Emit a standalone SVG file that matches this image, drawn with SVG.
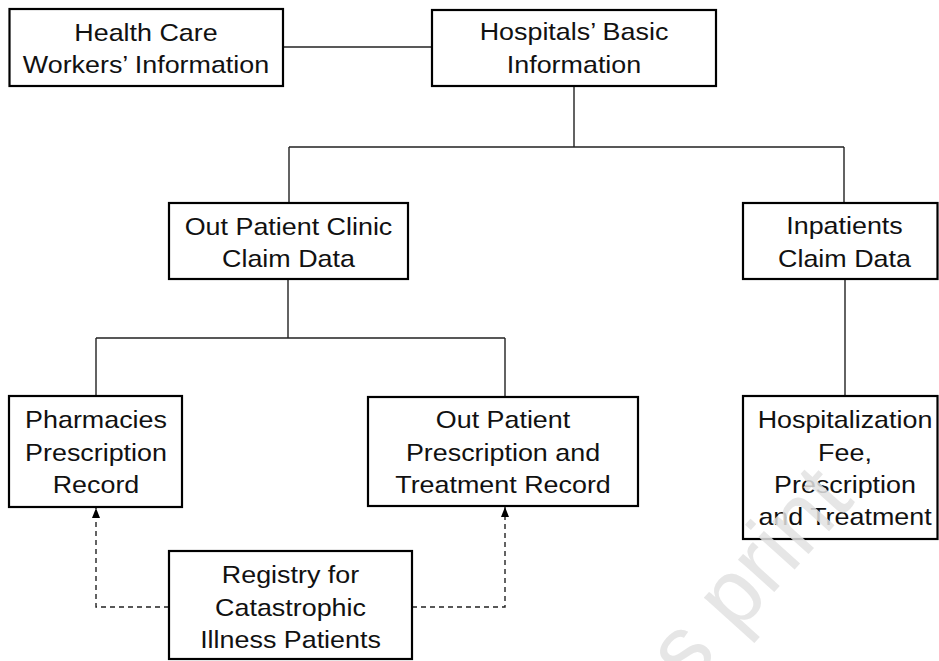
<svg xmlns="http://www.w3.org/2000/svg" width="939" height="661" viewBox="0 0 939 661">
<style>
.box{fill:#fff;stroke:#000;stroke-width:2.2}
.t{font-family:"Liberation Sans",Arial,sans-serif;font-size:24px;fill:#111;text-anchor:middle}
.ln{fill:none;stroke:#222;stroke-width:1.4}
.dash{fill:none;stroke:#222;stroke-width:1.4;stroke-dasharray:5 4}
.wm{font-family:"Liberation Sans",Arial,sans-serif;font-size:92px;fill:#e2e2e2;opacity:0.85}
</style>
<defs>
<marker id="ah" viewBox="0 0 10 8" refX="10" refY="4" markerWidth="10" markerHeight="8" markerUnits="userSpaceOnUse" orient="auto">
<path d="M0,0 L10,4 L0,8 Z" fill="#000"/>
</marker>
</defs>
<rect width="939" height="661" fill="#fff"/>
<g id="connectors">
<path class="ln" d="M283,47 H432"/>
<path class="ln" d="M574,86 V147 M289,147 H844 M289,147 V203 M844,147 V203"/>
<path class="ln" d="M288,279 V338 M96,338 H505 M96,338 V396 M505,338 V397"/>
<path class="ln" d="M845,279 V396"/>
<path class="dash" d="M169,607 H96 V508" marker-end="url(#ah)"/>
<path class="dash" d="M412,607 H505 V507" marker-end="url(#ah)"/>
</g>
<g id="n-hcw">
<rect class="box" x="9.5" y="9" width="273.5" height="77"/>
<text class="t" transform="translate(146 0) scale(1.12 1)" x="0" y="41">Health Care</text>
<text class="t" transform="translate(146 0) scale(1.12 1)" x="0" y="73">Workers’ Information</text>
</g>
<g id="n-hosp">
<rect class="box" x="432" y="10" width="284" height="76"/>
<text class="t" transform="translate(574 0) scale(1.12 1)" x="0" y="40">Hospitals’ Basic</text>
<text class="t" transform="translate(574 0) scale(1.12 1)" x="0" y="73">Information</text>
</g>
<g id="n-opc">
<rect class="box" x="169" y="203" width="239" height="76"/>
<text class="t" transform="translate(288.5 0) scale(1.12 1)" x="0" y="235">Out Patient Clinic</text>
<text class="t" transform="translate(288.5 0) scale(1.12 1)" x="0" y="267">Claim Data</text>
</g>
<g id="n-inp">
<rect class="box" x="743" y="203" width="194.5" height="76"/>
<text class="t" transform="translate(844.5 0) scale(1.12 1)" x="0" y="234.5">Inpatients</text>
<text class="t" transform="translate(844.5 0) scale(1.12 1)" x="0" y="267">Claim Data</text>
</g>
<g id="n-pharm">
<rect class="box" x="9" y="396" width="173" height="111"/>
<text class="t" transform="translate(96 0) scale(1.12 1)" x="0" y="428">Pharmacies</text>
<text class="t" transform="translate(96 0) scale(1.12 1)" x="0" y="461">Prescription</text>
<text class="t" transform="translate(96 0) scale(1.12 1)" x="0" y="493">Record</text>
</g>
<g id="n-opt">
<rect class="box" x="368" y="397" width="270" height="109"/>
<text class="t" transform="translate(503 0) scale(1.12 1)" x="0" y="428.5">Out Patient</text>
<text class="t" transform="translate(503 0) scale(1.12 1)" x="0" y="461">Prescription and</text>
<text class="t" transform="translate(503 0) scale(1.12 1)" x="0" y="493">Treatment Record</text>
</g>
<g id="n-hospfee">
<rect class="box" x="743" y="396" width="194.5" height="143"/>
<text class="t" transform="translate(845 0) scale(1.12 1)" x="0" y="428">Hospitalization</text>
<text class="t" transform="translate(845 0) scale(1.12 1)" x="0" y="461">Fee,</text>
<text class="t" transform="translate(845 0) scale(1.12 1)" x="0" y="493">Prescription</text>
<text class="t" transform="translate(845 0) scale(1.12 1)" x="0" y="525.5">and Treatment</text>
</g>
<g id="n-reg">
<rect class="box" x="169" y="551" width="243" height="108"/>
<text class="t" transform="translate(290.5 0) scale(1.12 1)" x="0" y="583.5">Registry for</text>
<text class="t" transform="translate(290.5 0) scale(1.12 1)" x="0" y="616">Catastrophic</text>
<text class="t" transform="translate(290.5 0) scale(1.12 1)" x="0" y="648.5">Illness Patients</text>
</g>
<text class="wm" transform="translate(688 688) rotate(-48)" x="0" y="0">s print</text>
</svg>
